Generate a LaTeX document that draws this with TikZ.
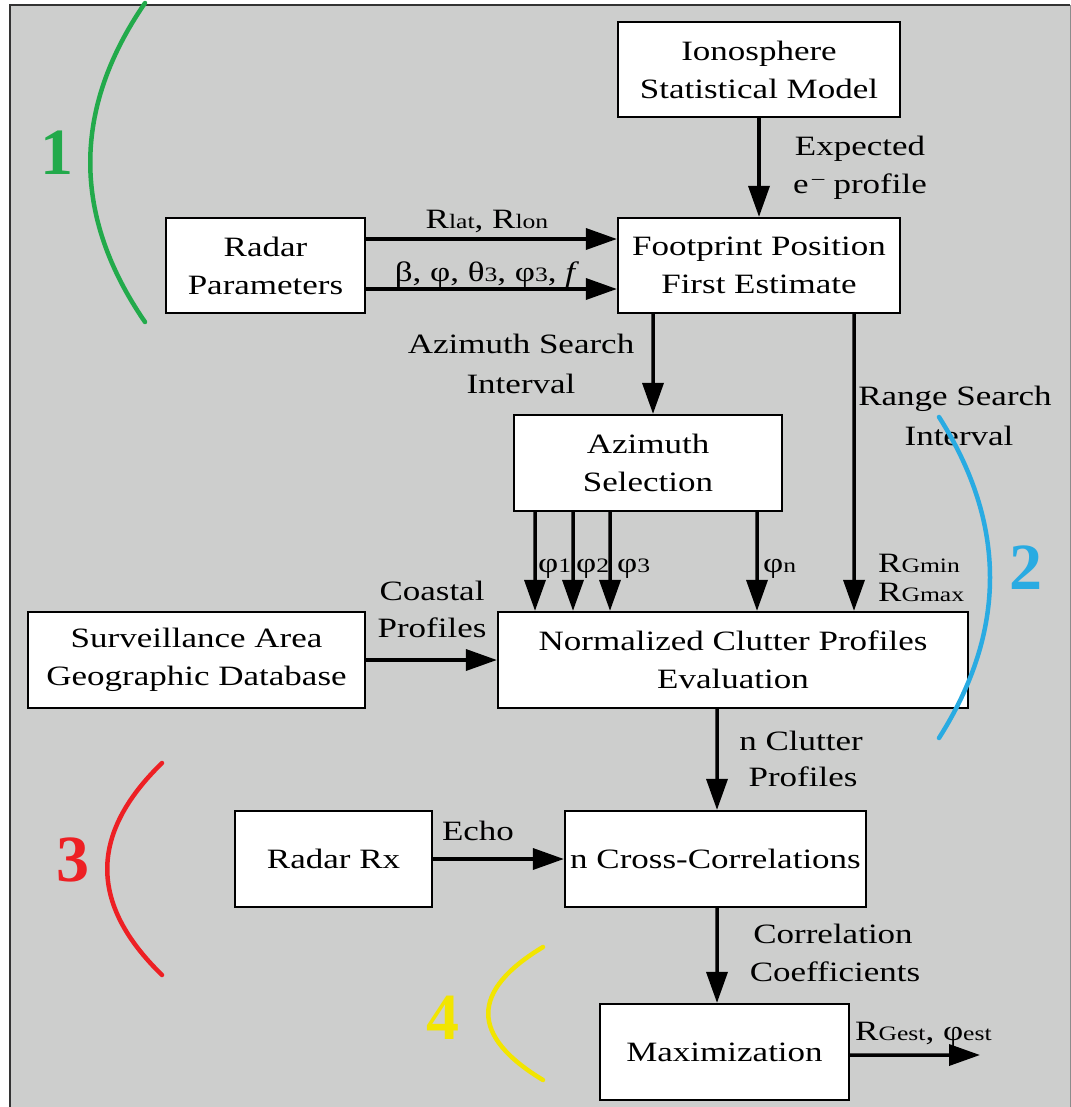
\documentclass[tikz,border=0pt]{standalone}
\usepackage{fontspec}
\setmainfont{Liberation Serif}[FakeStretch=1.25]
\newfontfamily\numfont{Liberation Serif}
\usetikzlibrary{arrows.meta}

\definecolor{bg}{RGB}{205,206,205}
\definecolor{cgreen}{RGB}{34,170,75}
\definecolor{cblue}{RGB}{41,171,226}
\definecolor{cred}{RGB}{237,32,36}
\definecolor{cyellow}{RGB}{242,229,0}

\newcommand{\lsub}[1]{{\fontsize{20.5bp}{20.5bp}\selectfont #1}}

\begin{document}
\begin{tikzpicture}[x=1bp,y=-1bp,
  font=\fontsize{28bp}{38bp}\selectfont,
  box/.style={draw=black, line width=2.2bp, fill=white, align=center, inner sep=0pt},
  arr/.style={line width=3.5bp, -{Triangle[length=31bp,width=21bp]}},
  lbl/.style={anchor=base, inner sep=0pt},
  lbll/.style={anchor=base west, inner sep=0pt},
  arcline/.style={line width=4.5bp, line cap=round},
  num/.style={font=\fontsize{66bp}{66bp}\selectfont\numfont\bfseries, inner sep=0pt}
]
\useasboundingbox (0,0) rectangle (1071,1107);
\fill[bg] (10,5) rectangle (1070,1107);
\draw[line width=2.5bp, black!80] (10,1107) -- (10,5) -- (1070,5);
\draw[line width=1bp, black!45] (1070,5) -- (1070,1107);

% boxes
\node[box, minimum width=282bp, minimum height=95bp] (iono) at (759,69.5) {Ionosphere\\Statistical Model};
\node[box, minimum width=282bp, minimum height=95bp] (foot) at (759,265.5) {Footprint Position\\First Estimate};
\node[box, minimum width=199bp, minimum height=95bp] (radar) at (265.5,265.5) {Radar\\Parameters};
\node[box, minimum width=268bp, minimum height=96bp] (azim) at (648,463) {Azimuth\\Selection};
\node[box, minimum width=470bp, minimum height=96bp] (ncp) at (733,660) {Normalized Clutter Profiles\\Evaluation};
\node[box, minimum width=337bp, minimum height=96bp] (surv) at (196.5,660) {Surveillance Area\\Geographic Database};
\node[box, minimum width=197bp, minimum height=96bp] (rx) at (333.5,859) {Radar Rx};
\node[box, minimum width=301bp, minimum height=96bp] (cc) at (715.5,859) {n Cross-Correlations};
\node[box, minimum width=249bp, minimum height=96bp] (max) at (724.5,1052) {Maximization};
\coordinate (out) at (980,1055);

% connectors
\draw[arr] (iono.south) -- (foot.north);
\draw[arr] ([yshift=26.5bp]radar.east) -- ([yshift=26.5bp]foot.west);
\draw[arr] ([yshift=-23.5bp]radar.east) -- ([yshift=-23.5bp]foot.west);
\draw[arr] ([xshift=-106bp]foot.south) -- ([xshift=5bp]azim.north);
\draw[arr] ([xshift=95bp]foot.south) -- ([xshift=121bp]ncp.north);
\draw[arr] ([xshift=-113bp]azim.south) -- ([xshift=-198bp]ncp.north);
\draw[arr] ([xshift=-75bp]azim.south) -- ([xshift=-160bp]ncp.north);
\draw[arr] ([xshift=-38bp]azim.south) -- ([xshift=-123bp]ncp.north);
\draw[arr] ([xshift=109bp]azim.south) -- ([xshift=24bp]ncp.north);
\draw[arr] (surv.east) -- (ncp.west);
\draw[arr] ([xshift=-16bp]ncp.south) -- ([xshift=1.5bp]cc.north);
\draw[arr] (rx.east) -- (cc.west);
\draw[arr] ([xshift=1.5bp]cc.south) -- ([xshift=-7.5bp]max.north);
\draw[arr] ([yshift=-3bp]max.east) -- (out);

% labels
\node[lbl] (lrlat) at (487,228) {R\lsub{lat}, R\lsub{lon}};
\node[lbl] (lbeta) at (487,281) {β, φ, θ\lsub{3}, φ\lsub{3}, \textit{f}};
\node[lbl] (lexp1) at (860,155) {Expected};
\node[lbl] (lexp2) at (860,193) {e\textsuperscript{\,–} profile};
\node[lbl] (laz1) at (521,353) {Azimuth Search};
\node[lbl] (laz2) at (521,393) {Interval};
\node[lbl] (lrg1) at (955,405) {Range Search};
\node[lbl] (lrg2) at (959,445) {Interval};
\node[lbll] (lp1) at (538,572) {φ\lsub{1}};
\node[lbll] (lp2) at (576,572) {φ\lsub{2}};
\node[lbll] (lp3) at (617,572) {φ\lsub{3}};
\node[lbll] (lpn) at (763,572) {φ\lsub{n}};
\node[lbll] (lrmin) at (878,572) {R\lsub{Gmin}};
\node[lbll] (lrmax) at (878,601) {R\lsub{Gmax}};
\node[lbl] (lco1) at (432,600) {Coastal};
\node[lbl] (lco2) at (432,637) {Profiles};
\node[lbl] (lnc1) at (801,750) {n Clutter};
\node[lbl] (lnc2) at (803,786) {Profiles};
\node[lbl] (lecho) at (478,840) {Echo};
\node[lbl] (lcor1) at (833,943) {Correlation};
\node[lbl] (lcor2) at (835,981) {Coefficients};
\node[lbll] (lest) at (855,1040) {R\lsub{Gest}, φ\lsub{est}};

% stage markers
\node[num, text=cgreen] (n1) at (57,153) {1};
\node[num, text=cblue] (n2) at (1026,568) {2};
\node[num, text=cred] (n3) at (73,860) {3};
\node[num, text=cyellow] (n4) at (443,1018) {4};
\draw[arcline, cgreen] (145,3) .. controls (72,109) and (72,216) .. (145,322);
\draw[arcline, cblue] (939,417) .. controls (1007,524) and (1007,631) .. (939,738);
\draw[arcline, cred] (162,763) .. controls (89,834) and (89,904) .. (162,975);
\draw[arcline, cyellow] (543,947) .. controls (470,991) and (470,1036) .. (543,1080);
\end{tikzpicture}
\end{document}
